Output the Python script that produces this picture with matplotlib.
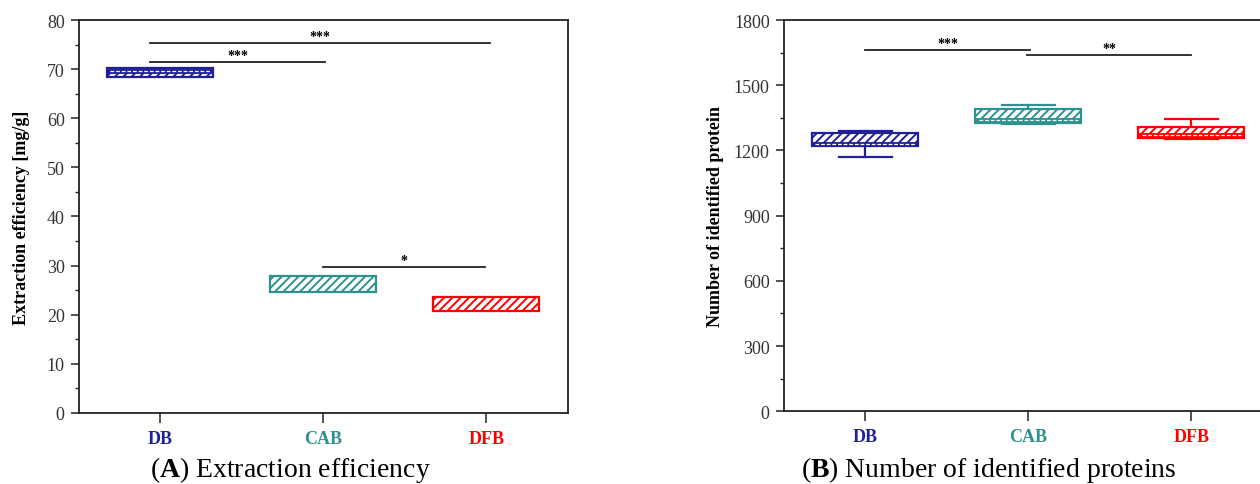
import numpy as np
import matplotlib
matplotlib.use('Agg')
import matplotlib.pyplot as plt
from matplotlib.patches import Rectangle
from matplotlib.ticker import MultipleLocator

plt.rcParams['font.family'] = 'Liberation Serif'
plt.rcParams['mathtext.fontset'] = 'custom'
plt.rcParams['mathtext.rm'] = 'Liberation Serif'
plt.rcParams['mathtext.bf'] = 'Liberation Serif:bold'
plt.rcParams['hatch.linewidth'] = 1.4

groups = ['DB', 'CAB', 'DFB']
colors = ['#1f1f99', '#2a938e', '#ff0000']

# (A) extraction efficiency [mg/g]
eff_q1 = [68.3, 24.6, 20.8]
eff_q3 = [70.2, 27.8, 23.7]
eff_med = [69.7, np.nan, np.nan]

# (B) number of identified proteins
prot_q1 = [1219, 1326, 1257]
prot_q3 = [1279, 1391, 1309]
prot_med = [1228, 1341, 1273]
prot_lo = [1170, 1322, 1251]
prot_hi = [1291, 1409, 1345]

# significance bars: (x start, x end, y, label)
eff_sig = [(0.94, 3.02, 75.4, '***'), (0.94, 2.01, 71.4, '***'), (2.0, 2.99, 29.7, '*')]
prot_sig = [(1.0, 2.01, 1663, '***'), (1.99, 3.0, 1637, '**')]


def draw_box(ax, x, q1, q3, med, color, lo=None, hi=None, w=0.65):
    ax.add_patch(Rectangle((x - w / 2, q1), w, q3 - q1, facecolor='white',
                           edgecolor=color, hatch='////', lw=1.6, zorder=3))
    if not np.isnan(med):
        ax.plot([x - w / 2, x + w / 2], [med, med], color=color, lw=3.5,
                solid_capstyle='butt', zorder=4)
        ax.plot([x - w / 2 + 0.02, x + w / 2 - 0.02], [med, med], color='white',
                lw=0.9, ls=(0, (3, 1.5)), zorder=5)
    if lo is not None:
        for end, edge in ((lo, q1), (hi, q3)):
            ax.plot([x, x], [edge, end], color=color, lw=1.6, zorder=2)
            ax.plot([x - w / 4, x + w / 4], [end, end], color=color, lw=1.6, zorder=2)


def style_axes(ax, ylabel, ymax, major, minor):
    ax.set_xlim(0.5, 3.5)
    ax.set_ylim(0, ymax)
    ax.yaxis.set_major_locator(MultipleLocator(major))
    ax.yaxis.set_minor_locator(MultipleLocator(minor))
    ax.set_xticks([1, 2, 3])
    ax.tick_params(axis='y', which='major', direction='out', length=6, width=1.1,
                   labelsize=13, pad=4, color='#222222', labelcolor='#333333')
    ax.tick_params(axis='y', which='minor', direction='out', length=3, width=1.0,
                   color='#222222')
    ax.tick_params(axis='x', direction='out', length=7, width=1.1, pad=5,
                   color='#222222')
    ax.set_xticklabels(groups, fontweight='bold', fontsize=13)
    for lab, c in zip(ax.get_xticklabels(), colors):
        lab.set_color(c)
    for sp in ax.spines.values():
        sp.set_linewidth(1.3)
        sp.set_color('#222222')
    ax.set_ylabel(ylabel, fontweight='bold', fontsize=13)


def draw_sig(ax, sig):
    for x0, x1, y, lab in sig:
        ax.plot([x0, x1], [y, y], color='#222222', lw=1.3)
        ax.annotate(lab, xy=((x0 + x1) / 2, y), xytext=(0, 0),
                    textcoords='offset points', ha='center', va='bottom',
                    fontsize=10, fontweight='bold')


fig = plt.figure(figsize=(12.6, 4.85), dpi=100)
axA = fig.add_axes([0.0624, 0.1464, 0.3884, 0.8103])
axB = fig.add_axes([0.6219, 0.1499, 0.3884, 0.8068])

for i in range(3):
    draw_box(axA, i + 1, eff_q1[i], eff_q3[i], eff_med[i], colors[i])
    draw_box(axB, i + 1, prot_q1[i], prot_q3[i], prot_med[i], colors[i],
             prot_lo[i], prot_hi[i])

style_axes(axA, 'Extraction efficiency [mg/g]', 80, 10, 5)
style_axes(axB, 'Number of identified protein', 1800, 300, 150)
axA.yaxis.set_label_coords(-0.099, 0.5)
axB.yaxis.set_label_coords(-0.122, 0.5)
draw_sig(axA, eff_sig)
draw_sig(axB, prot_sig)

fig.text(290 / 1260, 1 - 470 / 485, r'($\mathbf{A}$) Extraction efficiency',
         ha='center', va='center', fontsize=20)
fig.text(989 / 1260, 1 - 470 / 485, r'($\mathbf{B}$) Number of identified proteins',
         ha='center', va='center', fontsize=20)

fig.savefig('out.png', dpi=100)
